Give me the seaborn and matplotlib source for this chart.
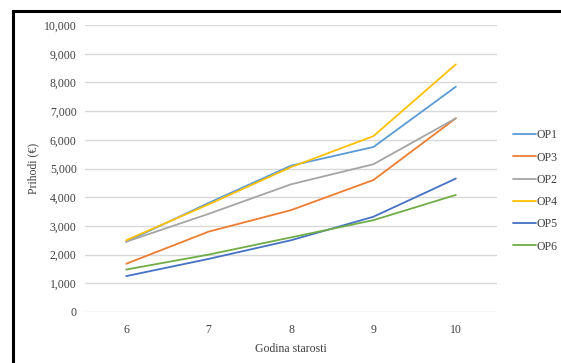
import matplotlib
matplotlib.use("Agg")
import matplotlib.pyplot as plt
import seaborn as sns
import pandas as pd
from matplotlib.patches import Rectangle

years = [6, 7, 8, 9, 10]
series_names = ["OP1", "OP3", "OP2", "OP4", "OP5", "OP6"]
op1 = [2450, 3800, 5100, 5750, 7850]
op3 = [1680, 2800, 3550, 4600, 6750]
op2 = [2450, 3420, 4450, 5150, 6750]
op4 = [2500, 3750, 5050, 6130, 8630]
op5 = [1250, 1850, 2500, 3320, 4650]
op6 = [1480, 2000, 2600, 3200, 4080]
yticks = list(range(0, 10001, 1000))
colors = ["#5B9BD5", "#ED7D31", "#A5A5A5", "#FFC000", "#4472C4", "#70AD47"]

values = [op1, op3, op2, op4, op5, op6]
rows = []
for name, vals in zip(series_names, values):
    for x, v in zip(years, vals):
        rows.append({"Godina": x, "Prihodi": v, "Serija": name})
df = pd.DataFrame(rows)

sns.set_style("white")
plt.rcParams["font.family"] = ["Liberation Serif", "DejaVu Serif"]

fig = plt.figure(figsize=(5.61, 3.63), dpi=100)
ax = fig.add_axes([0.1515, 0.1405, 0.7345, 0.7905])

sns.lineplot(data=df, x="Godina", y="Prihodi", hue="Serija", hue_order=series_names,
             palette=colors, linewidth=1.3, ax=ax, legend=True)

ax.set_xlim(5.5, 10.5)
ax.set_ylim(0, 10000)
ax.set_xticks(years)
ax.set_xticklabels([str(y) for y in years])
ax.set_yticks(yticks)
ax.set_yticklabels([f"{t:,}" for t in yticks])
ax.yaxis.grid(True, color="#D9D9D9", linewidth=1.0)
ax.set_axisbelow(True)
for s in ax.spines.values():
    s.set_visible(False)
ax.tick_params(axis="both", length=0, labelsize=8.5, colors="#404040", pad=6)
ax.tick_params(axis="x", pad=9)
ax.set_xlabel("Godina starosti", fontsize=8.5, color="#404040", labelpad=4.5)
ax.set_ylabel("Prihodi (€)", fontsize=8.5, color="#404040", labelpad=3)

leg = ax.legend(loc="center left", bbox_to_anchor=(511 / 561, 0.474),
                bbox_transform=fig.transFigure, frameon=False, fontsize=8.5,
                handlelength=1.95, handletextpad=0.05, labelspacing=0.87,
                borderaxespad=0, borderpad=0.2)
for t in leg.get_texts():
    t.set_color("#404040")

fig.patches.append(Rectangle((13 / 561, -0.1), 1.2, (1 - 11 / 363) + 0.1,
                             transform=fig.transFigure, fill=False,
                             edgecolor="black", linewidth=2.2, zorder=10))

fig.savefig("out.png", dpi=100)
